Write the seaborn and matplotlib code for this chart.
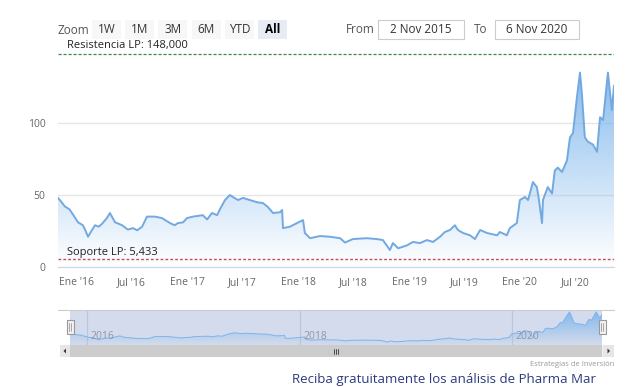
import numpy as np
import pandas as pd
import matplotlib
matplotlib.use("Agg")
import matplotlib.pyplot as plt
import matplotlib.dates as mdates
import matplotlib.colors as mcolors
from matplotlib.patches import Rectangle, Polygon
from matplotlib.transforms import ScaledTranslation
import seaborn as sns

# price series (EUR)
dates = [
    "2015-11-02", "2015-11-10", "2015-11-25", "2015-12-10", "2015-12-18", "2016-01-07",
    "2016-01-23", "2016-01-30", "2016-02-09", "2016-02-20", "2016-03-03", "2016-03-15",
    "2016-03-26", "2016-04-11", "2016-04-21", "2016-05-08", "2016-05-20", "2016-05-31",
    "2016-06-19", "2016-07-06", "2016-07-20", "2016-08-05", "2016-08-21", "2016-09-16",
    "2016-10-09", "2016-11-05", "2016-11-20", "2016-12-01", "2016-12-18", "2016-12-31",
    "2017-01-20", "2017-02-21", "2017-03-07", "2017-03-23", "2017-04-09", "2017-04-18",
    "2017-05-05", "2017-05-21", "2017-05-31", "2017-06-17", "2017-07-03", "2017-07-26",
    "2017-08-18", "2017-09-07", "2017-09-23", "2017-10-10", "2017-11-02", "2017-11-09",
    "2017-11-12", "2017-12-05", "2017-12-28", "2018-01-17", "2018-01-23", "2018-02-09",
    "2018-03-14", "2018-04-16", "2018-05-19", "2018-06-04", "2018-06-30", "2018-08-15",
    "2018-09-17", "2018-10-07", "2018-10-30", "2018-11-09", "2018-11-26", "2018-12-25",
    "2019-01-14", "2019-02-06", "2019-03-01", "2019-03-21", "2019-04-13", "2019-04-29",
    "2019-05-16", "2019-06-01", "2019-06-11", "2019-06-28", "2019-07-21", "2019-08-06",
    "2019-08-23", "2019-09-15", "2019-10-18", "2019-10-27", "2019-11-19", "2019-11-29",
    "2019-12-22", "2020-01-01", "2020-01-18", "2020-01-28", "2020-02-13", "2020-02-26",
    "2020-03-04", "2020-03-14", "2020-03-17", "2020-04-02", "2020-04-16", "2020-04-25",
    "2020-05-05", "2020-05-19", "2020-06-04", "2020-06-14", "2020-06-24", "2020-07-07",
    "2020-07-17", "2020-07-23", "2020-08-02", "2020-08-12", "2020-08-29", "2020-09-11",
    "2020-09-21", "2020-10-01", "2020-10-17", "2020-10-30", "2020-11-06",
]
prices = [
    48, 46, 42, 40, 37.5, 31,
    29, 26, 21, 25, 29, 28,
    30, 34, 37.5, 31, 30, 29,
    26, 27, 25.5, 28, 35, 35,
    34, 30.5, 29, 30.5, 31, 34,
    35, 36, 33, 37.5, 36, 40,
    46.5, 50, 48.6, 46.5, 48, 46.5,
    45, 44.4, 41.7, 37.5, 38, 39.6,
    27, 28, 30.5, 32.6, 23.6, 20,
    21.5, 21, 20, 17, 19.4, 20,
    19.4, 18.7, 11.8, 16.6, 13, 15,
    17.4, 16.6, 18.7, 17.4, 21, 24.3,
    25.7, 29, 25.7, 23.6, 22, 19.4,
    25.7, 23.6, 22, 24.3, 22, 27,
    30.5, 46.5, 48.6, 46.5, 59, 55.5,
    46.5, 30.5, 46.5, 55.5, 51, 67,
    69, 66, 74, 90, 93, 118,
    135, 121, 90, 87, 85, 80,
    104, 102, 135, 109, 126,
]

resistencia = 148.0
soporte = 5.433
x_ticks = ["2016-01-01", "2016-07-01", "2017-01-01", "2017-07-01", "2018-01-01",
           "2018-07-01", "2019-01-01", "2019-07-01", "2020-01-01", "2020-07-01"]
x_labels = ["Ene '16", "Jul '16", "Ene '17", "Jul '17", "Ene '18",
            "Jul '18", "Ene '19", "Jul '19", "Ene '20", "Jul '20"]
nav_years = ["2016-01-01", "2018-01-01", "2020-01-01"]
nav_labels = ["2016", "2018", "2020"]
zoom_buttons = ["1W", "1M", "3M", "6M", "YTD", "All"]
date_from = "2 Nov 2015"
date_to = "6 Nov 2020"

df = pd.DataFrame({"fecha": pd.to_datetime(dates), "precio": prices})
start, end = df["fecha"].iloc[0], df["fecha"].iloc[-1]

sns.set_style("white")
plt.rcParams["font.family"] = ["Open Sans", "DejaVu Sans"]

W, H = 641, 387
fig = plt.figure(figsize=(W / 100, H / 100), dpi=100)


def box(x0, y0, x1, y1):
    return [x0 / W, 1 - y1 / H, (x1 - x0) / W, (y1 - y0) / H]


def grad_fill(ax, top, alpha_top):
    poly = ax.fill_between(df["fecha"], df["precio"], 0, color="none", lw=0)
    rgb = mcolors.to_rgb("#7cb5ec")
    g = np.zeros((256, 1, 4))
    g[:, 0, :3] = rgb
    g[:, 0, 3] = np.linspace(alpha_top, 0.0, 256)
    x0, x1 = mdates.date2num(start), mdates.date2num(end)
    im = ax.imshow(g, aspect="auto", extent=[x0, x1, 0, top], origin="upper", zorder=1)
    im.set_clip_path(poly.get_paths()[0], ax.transData)


# main chart
ax = fig.add_axes(box(58, 51, 614, 267))
ax.set_facecolor("none")
grad_fill(ax, 150, 1.0)
sns.lineplot(data=df, x="fecha", y="precio", ax=ax, color="#72a9e0", lw=1.4, zorder=3)
ax.axhline(resistencia, color="#3f8a3f", lw=0.9, ls=(0, (2.5, 1.5)), zorder=4)
ax.axhline(soporte, color="#c2505a", lw=1.0, ls=(0, (2, 1.5)), zorder=4)
ax.text(mdates.date2num(start) + 30, resistencia + 2, "Resistencia LP: 148,000",
        fontsize=8, color="#222222", va="bottom", clip_on=False)
ax.text(mdates.date2num(start) + 30, soporte + 1.0, "Soporte LP: 5,433",
        fontsize=8, color="#222222", va="bottom")
ax.set_xlim(start, end)
ax.set_ylim(0, 150)
ax.set_yticks([0, 50, 100])
ax.set_yticklabels(["0", "50", "100"], fontsize=7.5, color="#666666")
for lab in ax.get_yticklabels():
    lab.set_transform(lab.get_transform() + ScaledTranslation(0, 5 / 100, fig.dpi_scale_trans))
ax.set_xticks(pd.to_datetime(x_ticks))
ax.set_xticklabels(x_labels, fontsize=7.5, color="#666666")
ax.tick_params(axis="y", length=0, pad=9)
ax.tick_params(axis="x", length=7, width=0.8, color="#ccd6eb", pad=0)
ax.grid(axis="y", color="#e6e6e6", lw=1)
ax.set_axisbelow(True)
for s in ["top", "left", "right"]:
    ax.spines[s].set_visible(False)
ax.spines["bottom"].set_color("#ccd6eb")
ax.set_xlabel("")
ax.set_ylabel("")

# navigator
nav = fig.add_axes(box(70, 310, 602, 345))
nav.set_facecolor("#d3dbec")
for d in pd.to_datetime(nav_years):
    nav.axvline(d, color="#bcc6da", lw=0.8, zorder=0)
grad_fill(nav, 143, 0.95)
sns.lineplot(data=df, x="fecha", y="precio", ax=nav, color="#7cb5ec", lw=0.7, zorder=3)
for d, lab in zip(pd.to_datetime(nav_years), nav_labels):
    nav.text(mdates.date2num(d) + 12, 0.23, lab, transform=nav.get_xaxis_transform(),
             fontsize=7.5, color="#8e97a8", va="center")
nav.set_xlim(start, end)
nav.set_ylim(0, 143)
nav.set_xticks([])
nav.set_yticks([])
nav.set_xlabel("")
nav.set_ylabel("")
for s in nav.spines.values():
    s.set_visible(False)

# overlay for the controls around the chart
ovl = fig.add_axes([0, 0, 1, 1])
ovl.set_xlim(0, W)
ovl.set_ylim(H, 0)
ovl.axis("off")

ovl.text(58, 30, "Zoom", fontsize=8.5, color="#555555", va="center")
for i, lab in enumerate(zoom_buttons):
    x0 = 92 + i * 33.2
    sel = lab == "All"
    ovl.add_patch(Rectangle((x0, 20), 29, 19, facecolor="#e6ebf5" if sel else "#f7f7f7", lw=0))
    ovl.text(x0 + 14.5, 29.5, lab, fontsize=8.5, ha="center", va="center",
             color="#000000" if sel else "#333333", fontweight="bold" if sel else "normal")

ovl.text(346, 29.5, "From", fontsize=8.5, color="#555555", va="center")
ovl.add_patch(Rectangle((378, 20), 86, 19, facecolor="white", edgecolor="#cccccc", lw=0.8))
ovl.text(421, 29.5, date_from, fontsize=8.5, color="#333333", ha="center", va="center")
ovl.text(474, 29.5, "To", fontsize=8.5, color="#555555", va="center")
ovl.add_patch(Rectangle((495, 20), 84, 19, facecolor="white", edgecolor="#cccccc", lw=0.8))
ovl.text(537, 29.5, date_to, fontsize=8.5, color="#333333", ha="center", va="center")

# navigator outline and handles
ovl.plot([58, 614], [310, 310], color="#cccccc", lw=0.8)
for hx in [70, 602]:
    ovl.add_patch(Rectangle((hx - 3.5, 320), 7, 14, facecolor="#f2f2f2", edgecolor="#999999", lw=0.8))
    ovl.plot([hx - 1, hx - 1], [323, 331], color="#999999", lw=0.6)
    ovl.plot([hx + 1, hx + 1], [323, 331], color="#999999", lw=0.6)

# scrollbar
ovl.add_patch(Rectangle((60, 345), 554, 12, facecolor="#f2f2f2", lw=0))
ovl.add_patch(Rectangle((70, 345), 532, 12, facecolor="#cccccc", lw=0))
ovl.add_patch(Rectangle((60, 345), 10, 12, facecolor="#e6e6e6", lw=0))
ovl.add_patch(Rectangle((603, 345), 11, 12, facecolor="#e6e6e6", lw=0))
ovl.add_patch(Polygon([[63.5, 351], [66, 348.5], [66, 353.5]], closed=True, facecolor="#333333", lw=0))
ovl.add_patch(Polygon([[610, 351], [607.5, 348.5], [607.5, 353.5]], closed=True, facecolor="#333333", lw=0))
for gx in [334, 336, 338]:
    ovl.plot([gx, gx], [348.5, 353.5], color="#333333", lw=0.6)

ovl.text(614, 365, "Estrategias de Inversión", fontsize=5.5, color="#999999", ha="right", va="center")
ovl.text(292, 372.5, "Reciba gratuitamente los análisis de Pharma Mar", fontsize=9.5,
         color="#2b3a7d", va="top")

fig.savefig("out.png", dpi=100)
